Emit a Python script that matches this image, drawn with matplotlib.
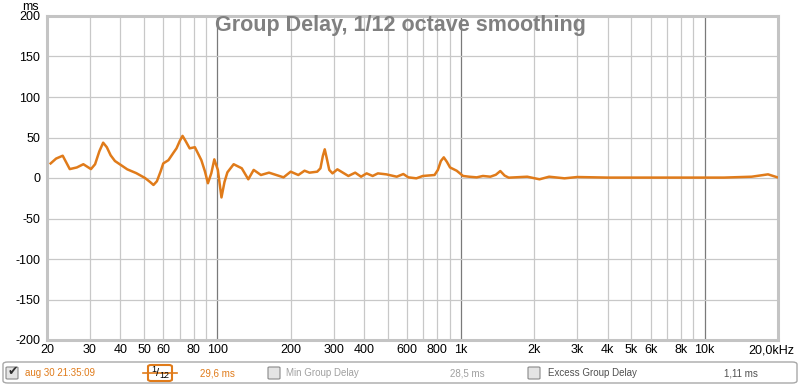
import numpy as np
import matplotlib.pyplot as plt
from matplotlib.patches import FancyBboxPatch
from matplotlib.transforms import ScaledTranslation

plt.rcParams['font.family'] = ['Liberation Sans', 'DejaVu Sans']
plt.rcParams['axes.unicode_minus'] = False

# group delay curve (Hz, ms)
freq = [20.7, 21.8, 23.2, 24.8, 26.5, 28.2, 30.3, 31.5, 32.8, 34.0, 35.2, 36.5,
        38.0, 42.7, 46.5, 50.5, 53.0, 54.7, 56.5, 58.5, 60.0, 63.0, 66.0, 68.0,
        70.2, 72.0, 74.0, 77.0, 80.9, 86.0, 89.0, 91.5, 94.5, 97.2, 100.5, 104,
        107, 110, 116.7, 126, 134, 141, 151, 163, 187, 200, 215, 228, 239, 257,
        265, 271, 276, 281, 288, 297, 311, 345, 368, 389, 410, 434, 456, 494,
        545, 580, 608, 656, 697, 779, 804, 827, 850, 875, 902, 960, 1020, 1080,
        1160, 1230, 1320, 1390, 1450, 1510, 1570, 1870, 2100, 2300, 2660, 3000,
        4000, 6000, 9000, 12000, 15600, 18200, 19900]
delay = [18, 24, 27.5, 11, 13, 17, 11, 17, 33, 43.6, 38, 28,
         21, 10.7, 6, 0, -5, -8.6, -4, 8, 18, 22, 31, 36.6,
         46, 52, 46, 36.6, 38, 22, 8, -6.5, 6, 23, 10, -24,
         -5, 7, 17, 12, -1.6, 10, 3.7, 6.6, 0.8, 7.8, 3.7, 9, 6.6, 7.8,
         12, 27, 35.4, 25, 10, 5.7, 10.7, 2.5, 6.6, 1.6, 5.7, 2.5, 5.7, 4.5,
         1.6, 4.9, 0.8, -0.4, 2.5, 3.7, 10, 21, 25.5, 20, 13, 9, 2.5, 1.6,
         0.8, 2.5, 1.6, 4, 8.6, 3, 0.4, 1.6, -1.6, 1.6, -0.4, 1.2,
         0.5, 0.5, 0.5, 0.5, 1.6, 4.5, 0.8]

yticks = [-200, -150, -100, -50, 0, 50, 100, 150, 200]
xticks = [20, 30, 40, 50, 60, 80, 100, 200, 300, 400, 600, 800, 1000,
          2000, 3000, 4000, 5000, 6000, 8000, 10000, 20000]
xticklabels = ['20', '30', '40', '50', '60', '80', '100', '200', '300', '400',
               '600', '800', '1k', '2k', '3k', '4k', '5k', '6k', '8k', '10k',
               '20,0kHz']

orange = '#e07b1a'

fig = plt.figure(figsize=(8, 3.86), dpi=100)
ax = fig.add_axes([47 / 800, 1 - 340 / 386, 731 / 800, 324 / 386])

# grid lines every 1-2-3..9 per decade, decades darker
grid_f = [m * 10 ** e for e in (1, 2, 3, 4) for m in range(1, 10)]
for f in grid_f:
    if 20 < f < 20000:
        dark = f in (100, 1000, 10000)
        ax.axvline(f, color='#7a7a7a' if dark else '#c8c8c8', lw=0.9, zorder=0)
for v in yticks[1:-1]:
    ax.axhline(v, color='#c8c8c8', lw=0.9, zorder=0)

ax.plot(freq, delay, color=orange, lw=1.8, solid_joinstyle='round', zorder=3)

ax.set_xscale('log')
ax.set_xlim(20, 20000)
ax.set_ylim(-200, 200)
ax.minorticks_off()
ax.set_xticks(xticks)
ax.set_xticklabels(xticklabels)
ax.set_yticks(yticks)
ax.tick_params(length=0, labelsize=9, colors='black', pad=3)
ax.tick_params(axis='y', pad=5)
last = ax.get_xticklabels()[-1]
last.set_transform(last.get_transform() + ScaledTranslation(-0.07, 0, fig.dpi_scale_trans))
for s in ax.spines.values():
    s.set_color('#c4c4c4')
    s.set_linewidth(2.2)

fig.text(30 / 800, 1 - 7 / 386, 'ms', fontsize=9, ha='center', va='center')
fig.text(400 / 800, 1 - 26 / 386, 'Group Delay, 1/12 octave smoothing',
         ha='center', va='center', fontsize=15.5, fontweight='bold', color='#808080')

# legend strip at the bottom
def px(x, y):
    return x / 800, 1 - y / 386

bar = FancyBboxPatch(px(3, 383), 794 / 800, 21 / 386, transform=fig.transFigure,
                     boxstyle='round,pad=0,rounding_size=0.006', fc='white',
                     ec='#a8a8a8', lw=1.0)
fig.patches.append(bar)

def checkbox(x, checked=False):
    b = FancyBboxPatch(px(x, 379), 12 / 800, 12 / 386, transform=fig.transFigure,
                       boxstyle='round,pad=0,rounding_size=0.002', fc='#e4e4e4',
                       ec='#8a8a8a', lw=0.8)
    fig.patches.append(b)
    if checked:
        fig.text(*px(x + 6.5, 372), '\u2714', fontsize=9, ha='center', va='center',
                 color='#303030', family='DejaVu Sans')

checkbox(6, True)
fig.text(*px(25, 373), 'aug 30 21:35:09', fontsize=7, color=orange, va='center')
# smoothing icon
fig.add_artist(plt.Line2D([143 / 800, 177 / 800], [1 - 373 / 386] * 2,
                          transform=fig.transFigure, color=orange, lw=1.2))
icon = FancyBboxPatch(px(148, 381), 24 / 800, 16 / 386, transform=fig.transFigure,
                      boxstyle='round,pad=0,rounding_size=0.004', fc='white',
                      ec=orange, lw=1.5)
fig.patches.append(icon)
fig.text(*px(154, 370), '1', fontsize=6.5, ha='center', va='center', color='black')
fig.text(*px(158, 373), '/', fontsize=8, ha='center', va='center', color='black')
fig.text(*px(164.5, 375), '12', fontsize=6.5, ha='center', va='center', color='black')
fig.text(*px(200, 373), '29,6 ms', fontsize=7, color=orange, va='center')
checkbox(268)
fig.text(*px(286, 373), 'Min Group Delay', fontsize=7, color='#a0a0a0', va='center')
fig.text(*px(450, 373), '28,5 ms', fontsize=7, color='#a0a0a0', va='center')
checkbox(528)
fig.text(*px(548, 373), 'Excess Group Delay', fontsize=7, color='#505050', va='center')
fig.text(*px(724, 373), '1,11 ms', fontsize=7, color='#505050', va='center')

fig.savefig('out.png', dpi=100)
